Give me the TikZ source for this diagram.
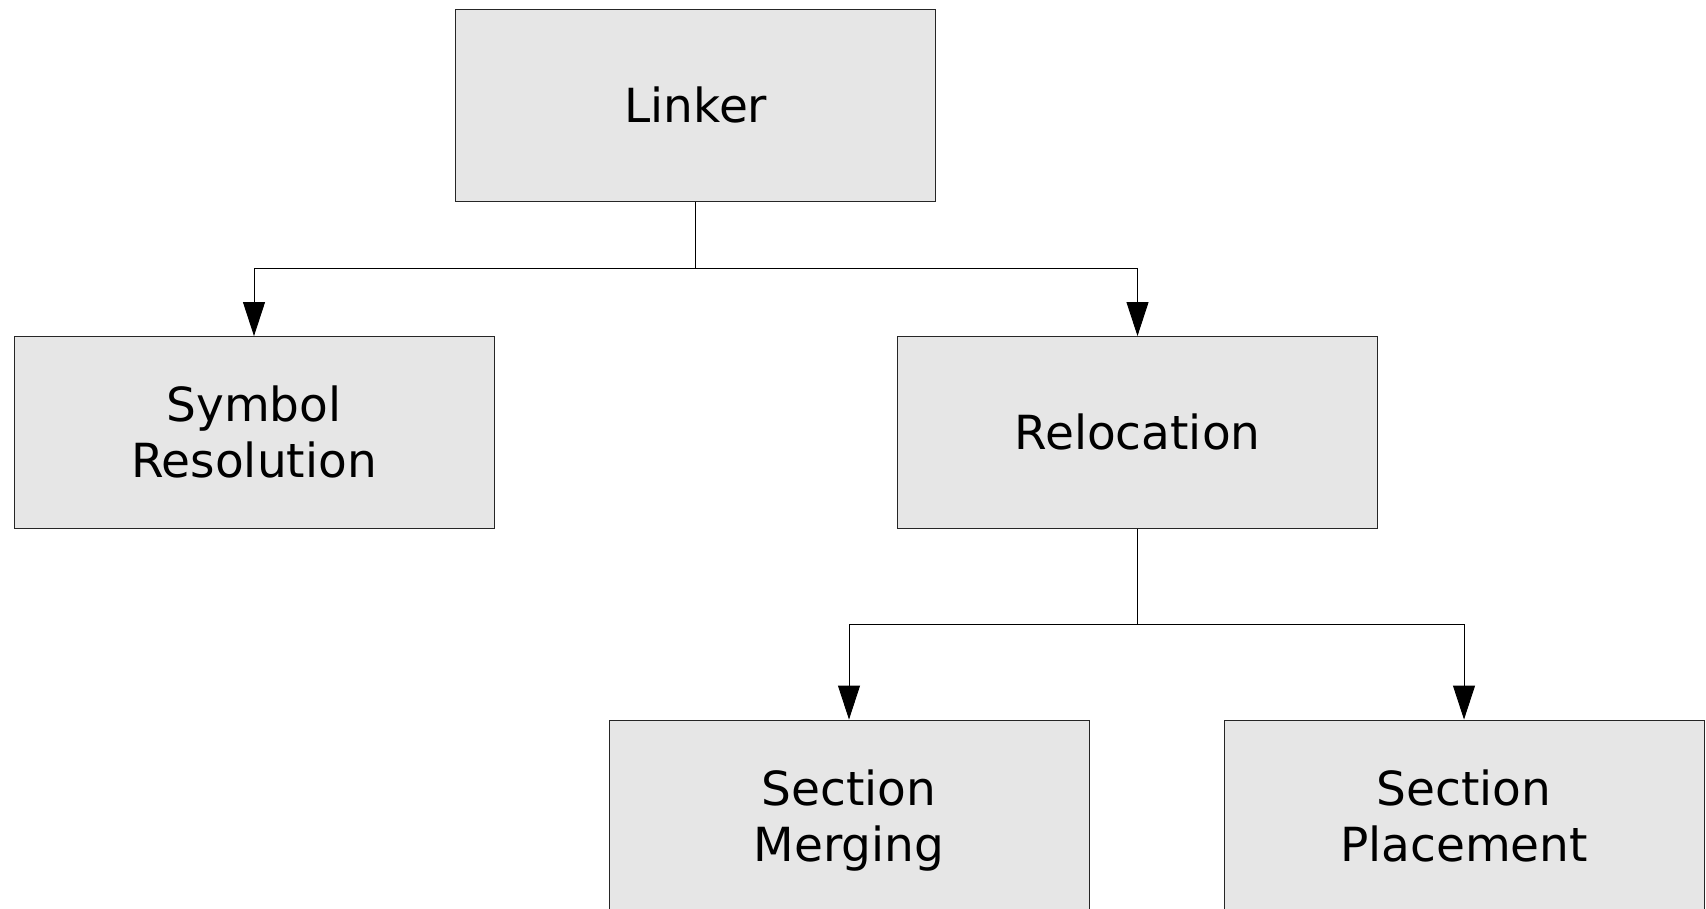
\documentclass[tikz,border=0pt]{standalone}
\usepackage{fontspec}
\setmainfont{DejaVu Sans}
\usetikzlibrary{arrows.meta}
\newcommand\boxstrut{\rule[-16.8pt]{0pt}{68pt}}
\newcommand\linestrut{\rule[-16.8pt]{0pt}{56pt}}
\begin{document}
\begin{tikzpicture}[x=1pt,y=-1pt,
  box/.style={draw=black!85, line width=0.9pt, fill={rgb,255:red,230;green,230;blue,230},
    minimum width=480pt, minimum height=192pt, inner sep=0pt, align=center,
    font=\fontsize{47}{56}\selectfont},
  conn/.style={draw=black, line width=0.9pt},
  arr/.style={conn, -{Triangle[length=34pt,width=22pt]}}]
\useasboundingbox (0,0) rectangle (1706,908);
\node[box] (linker) at (695.8,105.5) {\boxstrut Linker};
\node[box] (sym) at (254,432.5) {\boxstrut Symbol\\\linestrut Resolution};
\node[box] (reloc) at (1137.5,432.5) {\boxstrut Relocation};
\node[box] (merge) at (849,816) {\boxstrut Section\\\linestrut Merging};
\node[box] (place) at (1464,816) {\boxstrut Section\\\linestrut Placement};
\coordinate (j1) at (695.8,268.7);
\coordinate (j2) at (1137.5,624.5);
\draw[conn] (linker.south) -- (j1);
\draw[arr] (j1) -| (sym.north);
\draw[arr] (j1) -| (reloc.north);
\draw[conn] (reloc.south) -- (j2);
\draw[arr] (j2) -| (merge.north);
\draw[arr] (j2) -| (place.north);
\end{tikzpicture}
\end{document}
